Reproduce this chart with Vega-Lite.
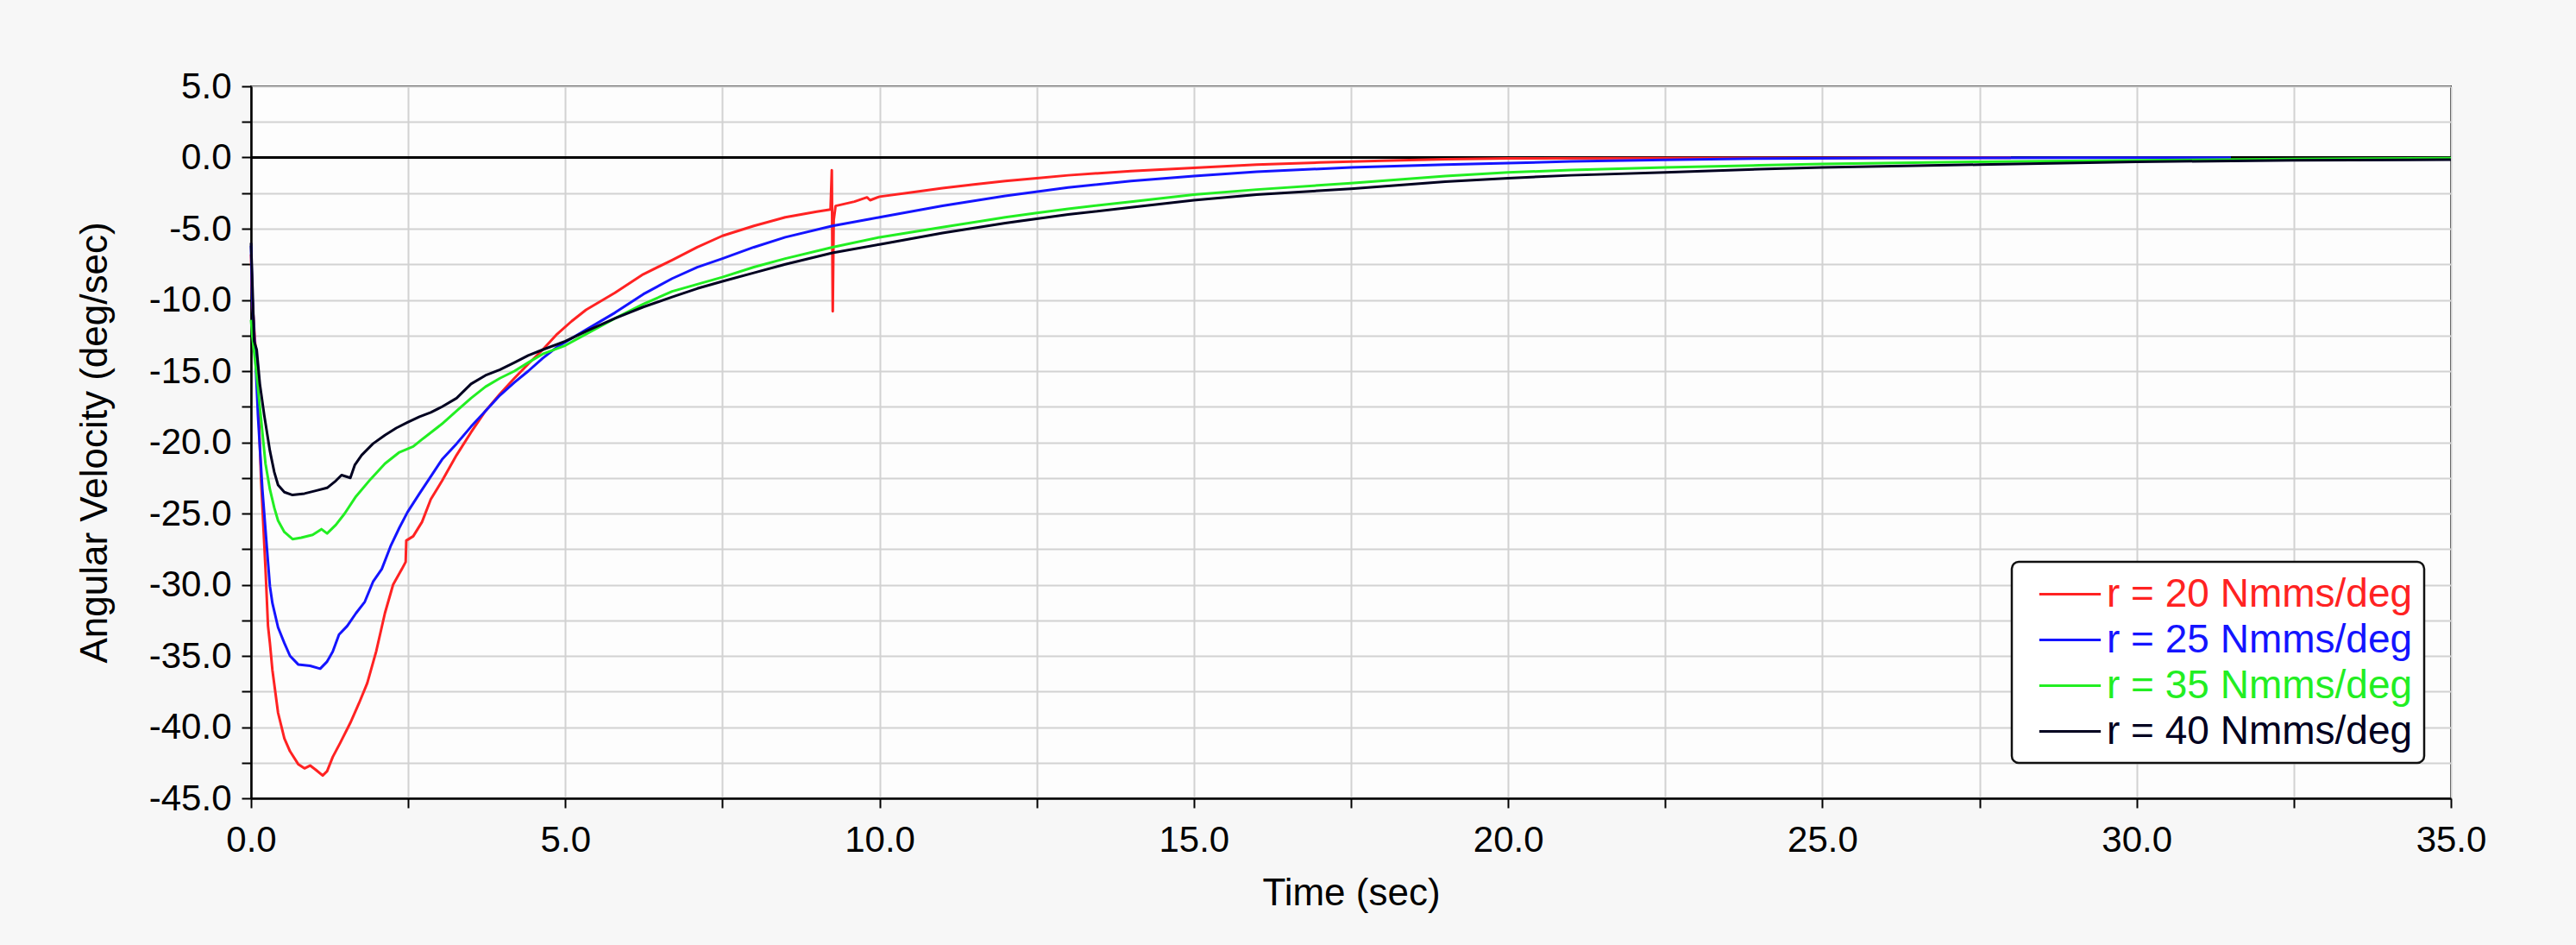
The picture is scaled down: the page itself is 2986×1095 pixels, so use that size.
{
  "$schema": "https://vega.github.io/schema/vega-lite/v6.json",
  "description": "Angular velocity against time for four damping values r.",
  "autosize": {"type": "none"},
  "width": 2550,
  "height": 825,
  "padding": {"left": 291, "top": 100, "right": 145, "bottom": 170},
  "background": "#f7f7f7",
  "config": {
    "font": "Liberation Sans",
    "view": {"stroke": "black", "strokeWidth": 2, "fill": "#fdfdfd"},
    "axis": {
      "grid": true,
      "gridColor": "#d2d2d2",
      "gridWidth": 2,
      "domainColor": "black",
      "domainWidth": 2.5,
      "tickColor": "black",
      "tickWidth": 2,
      "tickSize": 11,
      "labelFont": "Liberation Sans",
      "labelFontSize": 42,
      "labelColor": "black",
      "labelFlush": false,
      "labelOverlap": false,
      "titleFont": "Liberation Sans",
      "titleFontSize": 44,
      "titleFontWeight": "normal",
      "titleColor": "black"
    }
  },
  "layer": [
    {
      "data": {"values": [{"v": 0}]},
      "mark": {"type": "rule", "color": "black", "strokeWidth": 3},
      "encoding": {
        "y": {"field": "v", "type": "quantitative", "scale": {"domain": [-45, 5], "nice": false}}
      }
    },
    {
      "data": {"values": [
        {"r": "r = 20 Nmms/deg", "t": 0, "v": -6.8},
        {"r": "r = 20 Nmms/deg", "t": 0.02, "v": -10},
        {"r": "r = 20 Nmms/deg", "t": 0.08, "v": -14},
        {"r": "r = 20 Nmms/deg", "t": 0.11, "v": -16.5},
        {"r": "r = 20 Nmms/deg", "t": 0.16, "v": -22.7},
        {"r": "r = 20 Nmms/deg", "t": 0.23, "v": -28.9},
        {"r": "r = 20 Nmms/deg", "t": 0.27, "v": -32.9},
        {"r": "r = 20 Nmms/deg", "t": 0.3, "v": -34.1},
        {"r": "r = 20 Nmms/deg", "t": 0.34, "v": -36},
        {"r": "r = 20 Nmms/deg", "t": 0.43, "v": -39},
        {"r": "r = 20 Nmms/deg", "t": 0.53, "v": -40.8},
        {"r": "r = 20 Nmms/deg", "t": 0.62, "v": -41.7},
        {"r": "r = 20 Nmms/deg", "t": 0.75, "v": -42.6},
        {"r": "r = 20 Nmms/deg", "t": 0.85, "v": -42.9},
        {"r": "r = 20 Nmms/deg", "t": 0.94, "v": -42.7},
        {"r": "r = 20 Nmms/deg", "t": 1.03, "v": -43},
        {"r": "r = 20 Nmms/deg", "t": 1.14, "v": -43.4},
        {"r": "r = 20 Nmms/deg", "t": 1.21, "v": -43.1},
        {"r": "r = 20 Nmms/deg", "t": 1.3, "v": -42.1},
        {"r": "r = 20 Nmms/deg", "t": 1.42, "v": -41.1},
        {"r": "r = 20 Nmms/deg", "t": 1.58, "v": -39.7},
        {"r": "r = 20 Nmms/deg", "t": 1.72, "v": -38.3},
        {"r": "r = 20 Nmms/deg", "t": 1.85, "v": -36.9},
        {"r": "r = 20 Nmms/deg", "t": 1.99, "v": -34.7},
        {"r": "r = 20 Nmms/deg", "t": 2.13, "v": -32},
        {"r": "r = 20 Nmms/deg", "t": 2.26, "v": -30},
        {"r": "r = 20 Nmms/deg", "t": 2.4, "v": -28.9},
        {"r": "r = 20 Nmms/deg", "t": 2.46, "v": -28.4},
        {"r": "r = 20 Nmms/deg", "t": 2.47, "v": -26.9},
        {"r": "r = 20 Nmms/deg", "t": 2.58, "v": -26.6},
        {"r": "r = 20 Nmms/deg", "t": 2.72, "v": -25.6},
        {"r": "r = 20 Nmms/deg", "t": 2.86, "v": -24},
        {"r": "r = 20 Nmms/deg", "t": 3.04, "v": -22.7},
        {"r": "r = 20 Nmms/deg", "t": 3.27, "v": -20.9},
        {"r": "r = 20 Nmms/deg", "t": 3.5, "v": -19.3},
        {"r": "r = 20 Nmms/deg", "t": 3.73, "v": -17.8},
        {"r": "r = 20 Nmms/deg", "t": 3.96, "v": -16.6},
        {"r": "r = 20 Nmms/deg", "t": 4.19, "v": -15.5},
        {"r": "r = 20 Nmms/deg", "t": 4.41, "v": -14.5},
        {"r": "r = 20 Nmms/deg", "t": 4.64, "v": -13.5},
        {"r": "r = 20 Nmms/deg", "t": 4.87, "v": -12.4},
        {"r": "r = 20 Nmms/deg", "t": 5.1, "v": -11.5},
        {"r": "r = 20 Nmms/deg", "t": 5.33, "v": -10.7},
        {"r": "r = 20 Nmms/deg", "t": 5.79, "v": -9.5},
        {"r": "r = 20 Nmms/deg", "t": 6.24, "v": -8.2},
        {"r": "r = 20 Nmms/deg", "t": 6.7, "v": -7.2},
        {"r": "r = 20 Nmms/deg", "t": 7.1, "v": -6.3},
        {"r": "r = 20 Nmms/deg", "t": 7.5, "v": -5.5},
        {"r": "r = 20 Nmms/deg", "t": 8, "v": -4.8},
        {"r": "r = 20 Nmms/deg", "t": 8.5, "v": -4.2},
        {"r": "r = 20 Nmms/deg", "t": 9, "v": -3.8},
        {"r": "r = 20 Nmms/deg", "t": 9.22, "v": -3.65},
        {"r": "r = 20 Nmms/deg", "t": 9.24, "v": -0.9},
        {"r": "r = 20 Nmms/deg", "t": 9.255, "v": -10.8},
        {"r": "r = 20 Nmms/deg", "t": 9.27, "v": -4.4},
        {"r": "r = 20 Nmms/deg", "t": 9.3, "v": -3.4},
        {"r": "r = 20 Nmms/deg", "t": 9.6, "v": -3.1},
        {"r": "r = 20 Nmms/deg", "t": 9.8, "v": -2.8},
        {"r": "r = 20 Nmms/deg", "t": 9.85, "v": -3},
        {"r": "r = 20 Nmms/deg", "t": 10, "v": -2.75},
        {"r": "r = 20 Nmms/deg", "t": 10.5, "v": -2.45},
        {"r": "r = 20 Nmms/deg", "t": 11, "v": -2.15},
        {"r": "r = 20 Nmms/deg", "t": 11.5, "v": -1.9},
        {"r": "r = 20 Nmms/deg", "t": 12, "v": -1.65},
        {"r": "r = 20 Nmms/deg", "t": 12.5, "v": -1.45},
        {"r": "r = 20 Nmms/deg", "t": 13, "v": -1.25},
        {"r": "r = 20 Nmms/deg", "t": 14, "v": -0.95},
        {"r": "r = 20 Nmms/deg", "t": 15, "v": -0.72},
        {"r": "r = 20 Nmms/deg", "t": 16, "v": -0.5},
        {"r": "r = 20 Nmms/deg", "t": 17, "v": -0.35},
        {"r": "r = 20 Nmms/deg", "t": 18, "v": -0.22},
        {"r": "r = 20 Nmms/deg", "t": 19, "v": -0.12},
        {"r": "r = 20 Nmms/deg", "t": 20, "v": -0.06},
        {"r": "r = 20 Nmms/deg", "t": 22, "v": -0.04},
        {"r": "r = 20 Nmms/deg", "t": 25, "v": -0.03},
        {"r": "r = 20 Nmms/deg", "t": 28, "v": -0.02},

        {"r": "r = 25 Nmms/deg", "t": 0, "v": -6.2},
        {"r": "r = 25 Nmms/deg", "t": 0.02, "v": -9.8},
        {"r": "r = 25 Nmms/deg", "t": 0.07, "v": -14.1},
        {"r": "r = 25 Nmms/deg", "t": 0.11, "v": -18.1},
        {"r": "r = 25 Nmms/deg", "t": 0.18, "v": -23.3},
        {"r": "r = 25 Nmms/deg", "t": 0.25, "v": -27.3},
        {"r": "r = 25 Nmms/deg", "t": 0.3, "v": -30.1},
        {"r": "r = 25 Nmms/deg", "t": 0.34, "v": -31.3},
        {"r": "r = 25 Nmms/deg", "t": 0.43, "v": -33},
        {"r": "r = 25 Nmms/deg", "t": 0.53, "v": -34.1},
        {"r": "r = 25 Nmms/deg", "t": 0.62, "v": -35},
        {"r": "r = 25 Nmms/deg", "t": 0.75, "v": -35.6},
        {"r": "r = 25 Nmms/deg", "t": 0.94, "v": -35.7},
        {"r": "r = 25 Nmms/deg", "t": 1.1, "v": -35.9},
        {"r": "r = 25 Nmms/deg", "t": 1.21, "v": -35.4},
        {"r": "r = 25 Nmms/deg", "t": 1.3, "v": -34.7},
        {"r": "r = 25 Nmms/deg", "t": 1.4, "v": -33.5},
        {"r": "r = 25 Nmms/deg", "t": 1.53, "v": -32.9},
        {"r": "r = 25 Nmms/deg", "t": 1.67, "v": -32},
        {"r": "r = 25 Nmms/deg", "t": 1.81, "v": -31.2},
        {"r": "r = 25 Nmms/deg", "t": 1.94, "v": -29.8},
        {"r": "r = 25 Nmms/deg", "t": 2.08, "v": -28.9},
        {"r": "r = 25 Nmms/deg", "t": 2.22, "v": -27.3},
        {"r": "r = 25 Nmms/deg", "t": 2.36, "v": -26},
        {"r": "r = 25 Nmms/deg", "t": 2.49, "v": -24.9},
        {"r": "r = 25 Nmms/deg", "t": 2.68, "v": -23.6},
        {"r": "r = 25 Nmms/deg", "t": 2.86, "v": -22.4},
        {"r": "r = 25 Nmms/deg", "t": 3.04, "v": -21.2},
        {"r": "r = 25 Nmms/deg", "t": 3.27, "v": -20.1},
        {"r": "r = 25 Nmms/deg", "t": 3.5, "v": -18.9},
        {"r": "r = 25 Nmms/deg", "t": 3.73, "v": -17.8},
        {"r": "r = 25 Nmms/deg", "t": 3.96, "v": -16.7},
        {"r": "r = 25 Nmms/deg", "t": 4.19, "v": -15.8},
        {"r": "r = 25 Nmms/deg", "t": 4.41, "v": -15},
        {"r": "r = 25 Nmms/deg", "t": 4.64, "v": -14.1},
        {"r": "r = 25 Nmms/deg", "t": 4.87, "v": -13.3},
        {"r": "r = 25 Nmms/deg", "t": 5.33, "v": -12.1},
        {"r": "r = 25 Nmms/deg", "t": 5.79, "v": -10.9},
        {"r": "r = 25 Nmms/deg", "t": 6.24, "v": -9.6},
        {"r": "r = 25 Nmms/deg", "t": 6.7, "v": -8.5},
        {"r": "r = 25 Nmms/deg", "t": 7.1, "v": -7.7},
        {"r": "r = 25 Nmms/deg", "t": 7.5, "v": -7.1},
        {"r": "r = 25 Nmms/deg", "t": 8, "v": -6.3},
        {"r": "r = 25 Nmms/deg", "t": 8.5, "v": -5.6},
        {"r": "r = 25 Nmms/deg", "t": 9.25, "v": -4.8},
        {"r": "r = 25 Nmms/deg", "t": 10, "v": -4.2},
        {"r": "r = 25 Nmms/deg", "t": 11, "v": -3.4},
        {"r": "r = 25 Nmms/deg", "t": 12, "v": -2.7},
        {"r": "r = 25 Nmms/deg", "t": 13, "v": -2.1},
        {"r": "r = 25 Nmms/deg", "t": 14, "v": -1.65},
        {"r": "r = 25 Nmms/deg", "t": 15, "v": -1.3},
        {"r": "r = 25 Nmms/deg", "t": 16, "v": -1},
        {"r": "r = 25 Nmms/deg", "t": 17.5, "v": -0.7},
        {"r": "r = 25 Nmms/deg", "t": 19, "v": -0.5},
        {"r": "r = 25 Nmms/deg", "t": 20, "v": -0.4},
        {"r": "r = 25 Nmms/deg", "t": 21, "v": -0.28},
        {"r": "r = 25 Nmms/deg", "t": 22.5, "v": -0.17},
        {"r": "r = 25 Nmms/deg", "t": 24, "v": -0.07},
        {"r": "r = 25 Nmms/deg", "t": 26, "v": -0.03},
        {"r": "r = 25 Nmms/deg", "t": 29, "v": -0.02},
        {"r": "r = 25 Nmms/deg", "t": 31.5, "v": -0.02},

        {"r": "r = 35 Nmms/deg", "t": 0, "v": -11.4},
        {"r": "r = 35 Nmms/deg", "t": 0.02, "v": -12.5},
        {"r": "r = 35 Nmms/deg", "t": 0.09, "v": -15.3},
        {"r": "r = 35 Nmms/deg", "t": 0.16, "v": -18.4},
        {"r": "r = 35 Nmms/deg", "t": 0.23, "v": -21.5},
        {"r": "r = 35 Nmms/deg", "t": 0.3, "v": -23.3},
        {"r": "r = 35 Nmms/deg", "t": 0.37, "v": -24.6},
        {"r": "r = 35 Nmms/deg", "t": 0.43, "v": -25.5},
        {"r": "r = 35 Nmms/deg", "t": 0.53, "v": -26.3},
        {"r": "r = 35 Nmms/deg", "t": 0.66, "v": -26.8},
        {"r": "r = 35 Nmms/deg", "t": 0.8, "v": -26.7},
        {"r": "r = 35 Nmms/deg", "t": 0.98, "v": -26.5},
        {"r": "r = 35 Nmms/deg", "t": 1.12, "v": -26.1},
        {"r": "r = 35 Nmms/deg", "t": 1.21, "v": -26.4},
        {"r": "r = 35 Nmms/deg", "t": 1.35, "v": -25.8},
        {"r": "r = 35 Nmms/deg", "t": 1.49, "v": -25},
        {"r": "r = 35 Nmms/deg", "t": 1.67, "v": -23.8},
        {"r": "r = 35 Nmms/deg", "t": 1.9, "v": -22.6},
        {"r": "r = 35 Nmms/deg", "t": 2.13, "v": -21.5},
        {"r": "r = 35 Nmms/deg", "t": 2.36, "v": -20.7},
        {"r": "r = 35 Nmms/deg", "t": 2.58, "v": -20.3},
        {"r": "r = 35 Nmms/deg", "t": 2.72, "v": -19.8},
        {"r": "r = 35 Nmms/deg", "t": 3.04, "v": -18.7},
        {"r": "r = 35 Nmms/deg", "t": 3.27, "v": -17.8},
        {"r": "r = 35 Nmms/deg", "t": 3.5, "v": -16.9},
        {"r": "r = 35 Nmms/deg", "t": 3.73, "v": -16.1},
        {"r": "r = 35 Nmms/deg", "t": 3.96, "v": -15.5},
        {"r": "r = 35 Nmms/deg", "t": 4.19, "v": -15},
        {"r": "r = 35 Nmms/deg", "t": 4.41, "v": -14.4},
        {"r": "r = 35 Nmms/deg", "t": 4.64, "v": -13.8},
        {"r": "r = 35 Nmms/deg", "t": 5, "v": -13.2},
        {"r": "r = 35 Nmms/deg", "t": 5.33, "v": -12.4},
        {"r": "r = 35 Nmms/deg", "t": 5.79, "v": -11.3},
        {"r": "r = 35 Nmms/deg", "t": 6.24, "v": -10.3},
        {"r": "r = 35 Nmms/deg", "t": 6.7, "v": -9.4},
        {"r": "r = 35 Nmms/deg", "t": 7.1, "v": -8.9},
        {"r": "r = 35 Nmms/deg", "t": 7.5, "v": -8.4},
        {"r": "r = 35 Nmms/deg", "t": 8, "v": -7.7},
        {"r": "r = 35 Nmms/deg", "t": 8.5, "v": -7.1},
        {"r": "r = 35 Nmms/deg", "t": 9.25, "v": -6.3},
        {"r": "r = 35 Nmms/deg", "t": 10, "v": -5.6},
        {"r": "r = 35 Nmms/deg", "t": 11, "v": -4.9},
        {"r": "r = 35 Nmms/deg", "t": 12, "v": -4.2},
        {"r": "r = 35 Nmms/deg", "t": 12.5, "v": -3.9},
        {"r": "r = 35 Nmms/deg", "t": 13, "v": -3.6},
        {"r": "r = 35 Nmms/deg", "t": 14, "v": -3.1},
        {"r": "r = 35 Nmms/deg", "t": 15, "v": -2.6},
        {"r": "r = 35 Nmms/deg", "t": 16, "v": -2.25},
        {"r": "r = 35 Nmms/deg", "t": 17.5, "v": -1.8},
        {"r": "r = 35 Nmms/deg", "t": 19, "v": -1.3},
        {"r": "r = 35 Nmms/deg", "t": 20, "v": -1.05},
        {"r": "r = 35 Nmms/deg", "t": 21, "v": -0.88},
        {"r": "r = 35 Nmms/deg", "t": 22.5, "v": -0.7},
        {"r": "r = 35 Nmms/deg", "t": 24, "v": -0.55},
        {"r": "r = 35 Nmms/deg", "t": 25, "v": -0.45},
        {"r": "r = 35 Nmms/deg", "t": 27.5, "v": -0.3},
        {"r": "r = 35 Nmms/deg", "t": 30, "v": -0.2},
        {"r": "r = 35 Nmms/deg", "t": 32.5, "v": -0.1},
        {"r": "r = 35 Nmms/deg", "t": 35, "v": -0.05},

        {"r": "r = 40 Nmms/deg", "t": 0, "v": -6},
        {"r": "r = 40 Nmms/deg", "t": 0.01, "v": -7.3},
        {"r": "r = 40 Nmms/deg", "t": 0.05, "v": -12.9},
        {"r": "r = 40 Nmms/deg", "t": 0.09, "v": -13.5},
        {"r": "r = 40 Nmms/deg", "t": 0.14, "v": -15.9},
        {"r": "r = 40 Nmms/deg", "t": 0.21, "v": -18.1},
        {"r": "r = 40 Nmms/deg", "t": 0.3, "v": -20.6},
        {"r": "r = 40 Nmms/deg", "t": 0.37, "v": -22.1},
        {"r": "r = 40 Nmms/deg", "t": 0.43, "v": -23},
        {"r": "r = 40 Nmms/deg", "t": 0.53, "v": -23.5},
        {"r": "r = 40 Nmms/deg", "t": 0.66, "v": -23.7},
        {"r": "r = 40 Nmms/deg", "t": 0.85, "v": -23.6},
        {"r": "r = 40 Nmms/deg", "t": 1.03, "v": -23.4},
        {"r": "r = 40 Nmms/deg", "t": 1.21, "v": -23.2},
        {"r": "r = 40 Nmms/deg", "t": 1.35, "v": -22.7},
        {"r": "r = 40 Nmms/deg", "t": 1.44, "v": -22.3},
        {"r": "r = 40 Nmms/deg", "t": 1.58, "v": -22.5},
        {"r": "r = 40 Nmms/deg", "t": 1.65, "v": -21.6},
        {"r": "r = 40 Nmms/deg", "t": 1.76, "v": -20.9},
        {"r": "r = 40 Nmms/deg", "t": 1.94, "v": -20.1},
        {"r": "r = 40 Nmms/deg", "t": 2.13, "v": -19.5},
        {"r": "r = 40 Nmms/deg", "t": 2.31, "v": -19},
        {"r": "r = 40 Nmms/deg", "t": 2.49, "v": -18.6},
        {"r": "r = 40 Nmms/deg", "t": 2.68, "v": -18.2},
        {"r": "r = 40 Nmms/deg", "t": 2.86, "v": -17.9},
        {"r": "r = 40 Nmms/deg", "t": 3.04, "v": -17.5},
        {"r": "r = 40 Nmms/deg", "t": 3.27, "v": -16.9},
        {"r": "r = 40 Nmms/deg", "t": 3.5, "v": -15.9},
        {"r": "r = 40 Nmms/deg", "t": 3.73, "v": -15.3},
        {"r": "r = 40 Nmms/deg", "t": 3.96, "v": -14.9},
        {"r": "r = 40 Nmms/deg", "t": 4.19, "v": -14.4},
        {"r": "r = 40 Nmms/deg", "t": 4.41, "v": -13.9},
        {"r": "r = 40 Nmms/deg", "t": 4.64, "v": -13.5},
        {"r": "r = 40 Nmms/deg", "t": 5, "v": -12.9},
        {"r": "r = 40 Nmms/deg", "t": 5.33, "v": -12.2},
        {"r": "r = 40 Nmms/deg", "t": 5.79, "v": -11.3},
        {"r": "r = 40 Nmms/deg", "t": 6.24, "v": -10.5},
        {"r": "r = 40 Nmms/deg", "t": 6.7, "v": -9.8},
        {"r": "r = 40 Nmms/deg", "t": 7.1, "v": -9.2},
        {"r": "r = 40 Nmms/deg", "t": 7.5, "v": -8.7},
        {"r": "r = 40 Nmms/deg", "t": 8, "v": -8.1},
        {"r": "r = 40 Nmms/deg", "t": 8.5, "v": -7.5},
        {"r": "r = 40 Nmms/deg", "t": 9.25, "v": -6.7},
        {"r": "r = 40 Nmms/deg", "t": 10, "v": -6.1},
        {"r": "r = 40 Nmms/deg", "t": 11, "v": -5.3},
        {"r": "r = 40 Nmms/deg", "t": 12, "v": -4.6},
        {"r": "r = 40 Nmms/deg", "t": 12.5, "v": -4.3},
        {"r": "r = 40 Nmms/deg", "t": 13, "v": -4},
        {"r": "r = 40 Nmms/deg", "t": 14, "v": -3.5},
        {"r": "r = 40 Nmms/deg", "t": 15, "v": -3},
        {"r": "r = 40 Nmms/deg", "t": 16, "v": -2.6},
        {"r": "r = 40 Nmms/deg", "t": 17.5, "v": -2.2},
        {"r": "r = 40 Nmms/deg", "t": 19, "v": -1.7},
        {"r": "r = 40 Nmms/deg", "t": 20, "v": -1.45},
        {"r": "r = 40 Nmms/deg", "t": 21, "v": -1.25},
        {"r": "r = 40 Nmms/deg", "t": 22.5, "v": -1.05},
        {"r": "r = 40 Nmms/deg", "t": 24, "v": -0.82},
        {"r": "r = 40 Nmms/deg", "t": 25, "v": -0.7},
        {"r": "r = 40 Nmms/deg", "t": 27.5, "v": -0.5},
        {"r": "r = 40 Nmms/deg", "t": 30, "v": -0.3},
        {"r": "r = 40 Nmms/deg", "t": 32.5, "v": -0.2},
        {"r": "r = 40 Nmms/deg", "t": 35, "v": -0.15}
      ]},
      "mark": {"type": "line", "strokeWidth": 3, "strokeJoin": "round"},
      "encoding": {
        "x": {
          "field": "t",
          "type": "quantitative",
          "title": "Time (sec)",
          "scale": {"domain": [0, 35], "nice": false},
          "axis": {
            "values": [0, 2.5, 5, 7.5, 10, 12.5, 15, 17.5, 20, 22.5, 25, 27.5, 30, 32.5, 35],
            "labelExpr": "datum.value % 5 == 0 ? format(datum.value, '.1f') : ''",
            "labelPadding": 17,
            "titlePadding": 19
          }
        },
        "y": {
          "field": "v",
          "type": "quantitative",
          "title": "Angular Velocity (deg/sec)",
          "scale": {"domain": [-45, 5], "nice": false},
          "axis": {
            "values": [-45, -42.5, -40, -37.5, -35, -32.5, -30, -27.5, -25, -22.5, -20, -17.5, -15, -12.5, -10, -7.5, -5, -2.5, 0, 2.5, 5],
            "labelExpr": "datum.value % 5 != 0 ? '' : (datum.value < 0 ? '-' + format(-datum.value, '.1f') : format(datum.value, '.1f'))",
            "labelPadding": 12,
            "titlePadding": 40
          }
        },
        "color": {
          "field": "r",
          "type": "nominal",
          "scale": {
            "domain": ["r = 20 Nmms/deg", "r = 25 Nmms/deg", "r = 35 Nmms/deg", "r = 40 Nmms/deg"],
            "range": ["#ff2222", "#1414ff", "#22ee22", "#000020"]
          },
          "legend": {
            "title": null,
            "orient": "none",
            "legendX": 2041,
            "legendY": 551,
            "symbolType": "M-1.55,0L1.55,0",
            "symbolSize": 2116,
            "symbolStrokeWidth": 3,
            "symbolOffset": 30,
            "labelFont": "Liberation Sans",
            "labelFontSize": 46,
            "labelOffset": 18,
            "labelLimit": 0,
            "rowPadding": 5,
            "padding": 13,
            "fillColor": "white",
            "strokeColor": "#111111",
            "cornerRadius": 8,
            "encode": {
              "legend": {"update": {"strokeWidth": {"value": 2.5}}},
              "labels": {"update": {"fill": {"scale": "color", "field": "value"}}}
            }
          }
        }
      }
    }
  ]
}
